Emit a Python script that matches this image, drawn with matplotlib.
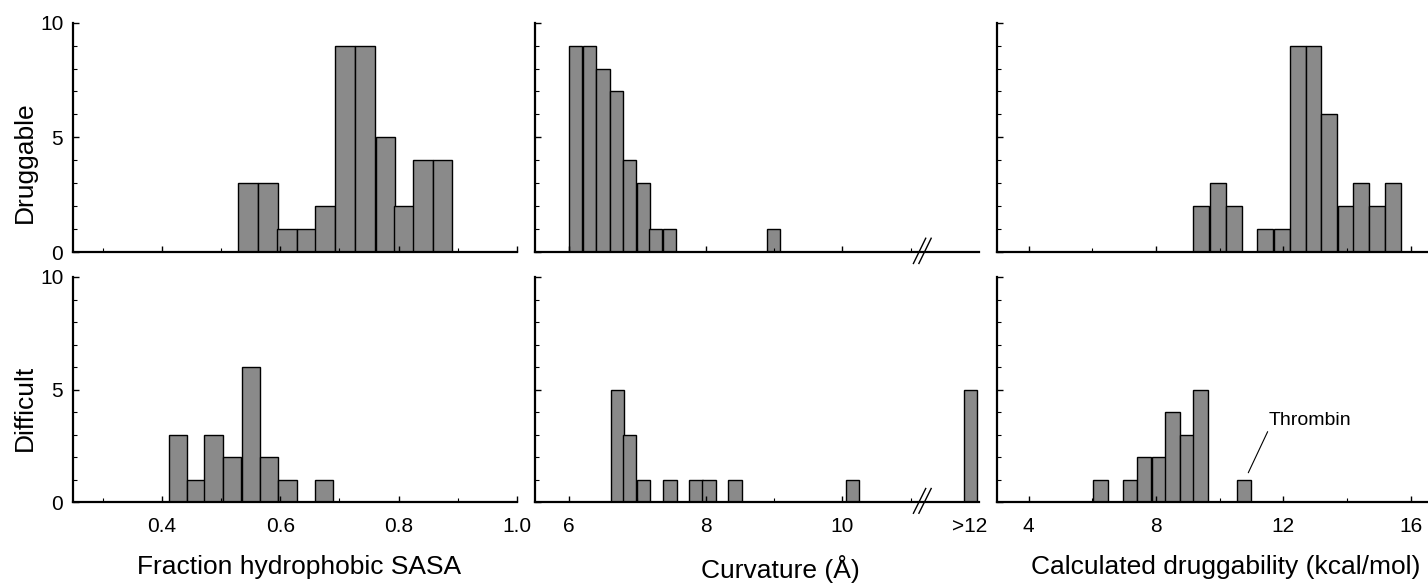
import matplotlib
matplotlib.use("Agg")
import matplotlib.pyplot as plt
from matplotlib.ticker import MultipleLocator, FixedLocator

plt.rcParams['font.family'] = ['Liberation Sans', 'DejaVu Sans']

# --- datos (borde izquierdo de cada barra, cuentas) ---
sasa_drug_x = [0.529, 0.563, 0.595, 0.629, 0.659, 0.693, 0.727, 0.761, 0.793, 0.825, 0.858]
sasa_drug_n = [3, 3, 1, 1, 2, 9, 9, 5, 2, 4, 4]
sasa_diff_x = [0.412, 0.443, 0.472, 0.503, 0.535, 0.566, 0.597, 0.659]
sasa_diff_n = [3, 1, 3, 2, 6, 2, 1, 1]

curv_drug_x = [6.0, 6.2, 6.4, 6.6, 6.79, 6.99, 7.17, 7.37, 8.89]
curv_drug_n = [9, 9, 8, 7, 4, 3, 1, 1, 1]
curv_diff_x = [6.61, 6.79, 6.99, 7.38, 7.76, 7.95, 8.33, 10.05, 11.78]
curv_diff_n = [5, 3, 1, 1, 1, 1, 1, 1, 5]

dg_drug_x = [9.17, 9.7, 10.2, 11.18, 11.7, 12.2, 12.7, 13.2, 13.73, 14.2, 14.7, 15.2]
dg_drug_n = [2, 3, 2, 1, 1, 9, 9, 6, 2, 3, 2, 3]
dg_diff_x = [6.02, 6.95, 7.39, 7.86, 8.28, 8.75, 9.17, 10.53]
dg_diff_n = [1, 1, 2, 2, 4, 3, 5, 1]

xlabels = ['Fraction hydrophobic SASA', 'Curvature (Å)', 'Calculated druggability (kcal/mol)']
rowlabels = ['Druggable', 'Difficult']

W, H = 1428, 583
fig = plt.figure(figsize=(W / 100, H / 100), dpi=100)

# posiciones de los ejes en pixeles (x0, x1) y (y_base, y_top)
cols = [(73, 517), (535, 979), (997, 1428)]
rows = [(252, 22.7), (502, 277)]

bar_kw = dict(align='edge', color='#8a8a8a', edgecolor='black', linewidth=1.0)
data = [
    [(sasa_drug_x, sasa_drug_n, 0.033), (curv_drug_x, curv_drug_n, 0.195), (dg_drug_x, dg_drug_n, 0.5)],
    [(sasa_diff_x, sasa_diff_n, 0.031), (curv_diff_x, curv_diff_n, 0.195), (dg_diff_x, dg_diff_n, 0.46)],
]
xlims = [(0.25, 1.0), (5.5, 12.0), (3.0, 16.55)]

axes = {}
for r, (yb, yt) in enumerate(rows):
    for c, (x0, x1) in enumerate(cols):
        ax = fig.add_axes([x0 / W, 1 - yb / H, (x1 - x0) / W, (yb - yt) / H])
        axes[r, c] = ax
        xs, ns, w = data[r][c]
        ax.bar(xs, ns, width=w, **bar_kw)
        ax.set_xlim(*xlims[c])
        ax.set_ylim(0, 10)
        for s in ['top', 'right']:
            ax.spines[s].set_visible(False)
        for s in ['left', 'bottom']:
            ax.spines[s].set_linewidth(1.6)
        ax.yaxis.set_major_locator(FixedLocator([0, 5, 10]))
        ax.yaxis.set_minor_locator(MultipleLocator(1))
        ax.tick_params(axis='both', which='major', direction='in', length=4, width=1,
                       labelsize=15)
        ax.tick_params(axis='y', which='major', pad=7)
        ax.tick_params(axis='x', which='major', pad=11)
        ax.tick_params(axis='both', which='minor', direction='in', length=3, width=0.8)
        if c > 0:
            ax.tick_params(axis='y', labelleft=False)
        if r == 0:
            ax.tick_params(axis='x', labelbottom=False)

        if c == 0:
            ax.xaxis.set_major_locator(FixedLocator([0.4, 0.6, 0.8, 1.0]))
            ax.xaxis.set_minor_locator(FixedLocator([0.3, 0.5, 0.7, 0.9]))
            ax.set_xticklabels(['0.4', '0.6', '0.8', '1.0'])
            ax.set_ylabel(rowlabels[r], fontsize=19)
            ax.yaxis.set_label_coords(-0.081, 0.39 if r == 0 else 0.42)
        elif c == 1:
            ax.xaxis.set_major_locator(FixedLocator([6, 8, 10, 11.87]))
            ax.xaxis.set_minor_locator(FixedLocator([7, 9, 11]))
            ax.set_xticklabels(['6', '8', '10', '>12'])
            ax.get_xticklines()[6].set_visible(False)
            # marca de corte del eje
            for dx in (0.0, 0.08):
                ax.plot([11.04 + dx, 11.22 + dx], [-0.05, 0.06], color='black', lw=1.0,
                        transform=ax.get_xaxis_transform(), clip_on=False)
        else:
            ax.xaxis.set_major_locator(FixedLocator([4, 8, 12, 16]))
            ax.xaxis.set_minor_locator(FixedLocator([6, 10, 14]))

        if r == 1:
            ax.set_xlabel(xlabels[c], fontsize=19)
            ax.xaxis.set_label_coords([0.51, 0.552, 0.531][c], -0.235)

axes[1, 2].annotate('Thrombin', xy=(10.9, 1.3), xytext=(11.55, 3.25), fontsize=14,
                    ha='left', va='bottom',
                    arrowprops=dict(arrowstyle='-', lw=0.8, shrinkA=0, shrinkB=0,
                                    relpos=(0, 0)))

fig.savefig('out.png', dpi=100, facecolor='white')
